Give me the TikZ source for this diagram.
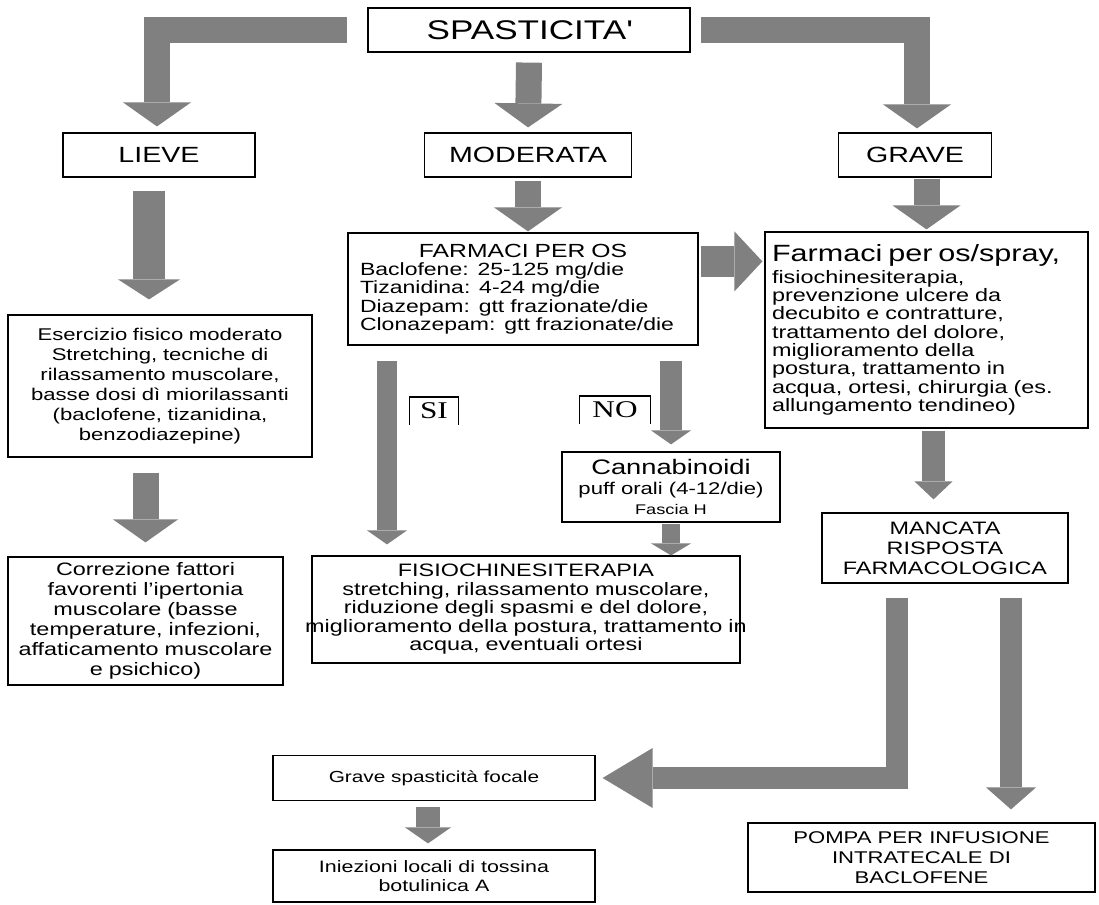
\documentclass[tikz,border=0pt]{standalone}
\usepackage{fontspec}
\setmainfont{Liberation Sans}[FakeStretch=1.3]
\newfontfamily\sifont{Liberation Serif}[FakeStretch=1.3]
\usepackage{tikz}
\usetikzlibrary{positioning,arrows.meta}
\definecolor{arrowgray}{HTML}{808080}

\begin{document}
\begin{tikzpicture}[x=1pt, y=-1pt, line width=1.2pt]
    \tikzstyle{panel}=[draw, inner sep=4pt, align=center,
                       font=\fontsize{17}{20}\selectfont]
    \tikzstyle{grade}=[panel, minimum height=44pt, font=\fontsize{22}{24}\selectfont]
    \tikzstyle{answer}=[font=\sifont\fontsize{24}{24}\selectfont,
                        minimum height=27pt, inner sep=2pt]
    \tikzstyle{bigarrow}=[draw=arrowgray, line width=26pt,
                          -{Triangle[width=68pt, length=24pt, line width=0pt]}]

    \useasboundingbox (0,0) rectangle (1099,904);

    % severity levels
    \node[grade, minimum width=322pt, font=\fontsize{27}{30}\selectfont] (spast) at (529,30) {SPASTICITA\textquotesingle};
    \node[grade, minimum width=192pt] (lieve) at (159,155) {LIEVE};
    \node[grade, minimum width=207pt] (moder) at (528,155) {MODERATA};
    \node[grade, minimum width=153pt] (grave) at (915,155) {GRAVE};

    % treatments
    \node[panel, minimum width=304pt, minimum height=142pt, text width=296pt] (eserc) at (160,386)
        {Esercizio fisico moderato\\ Stretching, tecniche di\\ rilassamento muscolare,\\
         basse dosi dì miorilassanti\\ (baclofene, tizanidina,\\ benzodiazepine)};
    \node[panel, minimum width=275pt, minimum height=128pt, text width=267pt,
          font=\fontsize{18}{20}\selectfont] (correz) at (145.5,621)
        {Correzione fattori\\ favorenti l'ipertonia\\ muscolare (basse\\
         temperature, infezioni,\\ affaticamento muscolare\\ e psichico)};
    \node[panel, minimum width=350pt, minimum height=112pt, text width=326pt, align=left,
          font=\fontsize{17.7}{18.3}\selectfont] (farm) at (523,289)
        {{\centering\fontsize{19}{22}\selectfont FARMACI PER OS\par}
         Baclofene: 25-125 mg/die\\ Tizanidina: 4-24 mg/die\\
         Diazepam: gtt frazionate/die\\ Clonazepam: gtt frazionate/die};
    \node[panel, minimum width=323pt, minimum height=196pt, text width=309pt, align=left,
          font=\fontsize{18}{18.3}\selectfont] (spray) at (926.5,330)
        {{\fontsize{23.5}{26}\selectfont Farmaci per os/spray,}\\[3pt]
         fisiochinesiterapia,\\ prevenzione ulcere da\\ decubito e contratture,\\
         trattamento del dolore,\\ miglioramento della\\ postura, trattamento in\\
         acqua, ortesi, chirurgia (es.\\ allungamento tendineo)};
    \node[panel, minimum width=218pt, minimum height=70pt, inner sep=2pt] (cann) at (671,487)
        {{\fontsize{21}{23}\selectfont Cannabinoidi}\\ puff orali (4-12/die)\\
         {\fontsize{14}{16}\selectfont Fascia H}};
    \node[panel, minimum width=428pt, minimum height=107pt, text width=450pt, inner xsep=-11pt,
          font=\fontsize{18}{18.5}\selectfont] (fisio) at (526,609.5)
        {FISIOCHINESITERAPIA\\ stretching, rilassamento muscolare,\\
         riduzione degli spasmi e del dolore,\\ miglioramento della postura, trattamento in\\
         acqua, eventuali ortesi};
    \node[panel, minimum width=246pt, minimum height=70pt,
          font=\fontsize{18}{20}\selectfont] (manc) at (945,548)
        {MANCATA\\ RISPOSTA\\ FARMACOLOGICA};
    \node[panel, minimum width=322pt, minimum height=45pt,
          font=\fontsize{16}{18}\selectfont] (focale) at (434,778) {Grave spasticità focale};
    \node[panel, minimum width=322pt, minimum height=52pt,
          font=\fontsize{16.5}{19}\selectfont] (iniez) at (434,876)
        {Iniezioni locali di tossina\\ botulinica A};
    \node[panel, minimum width=347pt, minimum height=69pt] (pompa) at (921.5,857.5)
        {POMPA PER INFUSIONE\\ INTRATECALE DI\\ BACLOFENE};

    % yes / no
    \node[answer, minimum width=48pt] (si) at (434,411) {SI};
    \node[answer, minimum width=70pt] (no) at (615,410) {NO};
    \draw (si.south west) |- (si.north) -| (si.south east);
    \draw (no.south west) |- (no.north) -| (no.south east);

    % block arrows
    \draw[bigarrow, shorten >=6pt] ([xshift=-20pt]spast.west) -| ([xshift=-2pt]lieve.north);
    \draw[bigarrow, shorten >=5pt] ([yshift=-10pt]spast.south) -- (moder.north);
    \draw[bigarrow, shorten >=4pt] ([xshift=10pt]spast.east) -| ([xshift=2pt]grave.north);
    \draw[bigarrow, line width=32pt, -{Triangle[width=62pt, length=20pt, line width=0pt]},
          shorten <=13pt, shorten >=15pt]
        ([xshift=-10pt]lieve.south) -- ([xshift=-10pt]lieve.south |- eserc.north);
    \draw[bigarrow, shorten <=3pt, shorten >=1pt] (moder.south) -- (moder.south |- farm.north);
    \draw[bigarrow, shorten <=1pt, shorten >=2pt] (spray.north |- grave.south) -- (spray.north);
    \draw[bigarrow, line width=31pt, -{Triangle[width=60pt, length=28pt, line width=0pt]},
          shorten <=2pt, shorten >=2pt]
        ([yshift=-29pt]farm.north east) -- ([yshift=-29pt]farm.north east -| spray.west);
    \draw[bigarrow, -{Triangle[width=65pt, length=23pt, line width=0pt]},
          shorten <=15pt, shorten >=14pt] (correz.north |- eserc.south) -- (correz.north);
    \draw[bigarrow, line width=20pt, -{Triangle[width=40pt, length=14pt, line width=0pt]},
          shorten <=15pt, shorten >=11pt]
        ([xshift=-136pt]farm.south) -- ([xshift=-136pt]farm.south |- fisio.north);
    \draw[bigarrow, line width=22pt, -{Triangle[width=40pt, length=14pt, line width=0pt]},
          shorten <=15pt, shorten >=7pt] (cann.north |- farm.south) -- (cann.north);
    \draw[bigarrow, line width=18pt, -{Triangle[width=40pt, length=12pt, line width=0pt]},
          shorten <=1pt] (cann.south) -- (cann.south |- fisio.north);
    \draw[bigarrow, line width=23pt, -{Triangle[width=38pt, length=18pt, line width=0pt]},
          shorten <=2pt, shorten >=13pt]
        ([xshift=7pt]spray.south) -- ([xshift=7pt]spray.south |- manc.north);
    \draw[bigarrow, line width=22pt, -{Triangle[width=60pt, length=50pt, line width=0pt]},
          shorten <=14pt, shorten >=7pt] ([xshift=-48pt]manc.south) |- (focale.east);
    \draw[bigarrow, line width=22pt, -{Triangle[width=50pt, length=22pt, line width=0pt]},
          shorten <=14pt, shorten >=13pt]
        ([xshift=66pt]manc.south) -- ([xshift=66pt]manc.south |- pompa.north);
    \draw[bigarrow, line width=24pt, -{Triangle[width=46pt, length=16pt, line width=0pt]},
          shorten <=6pt, shorten >=6pt]
        ([xshift=-6pt]focale.south) -- ([xshift=-6pt]focale.south |- iniez.north);
\end{tikzpicture}
\end{document}
